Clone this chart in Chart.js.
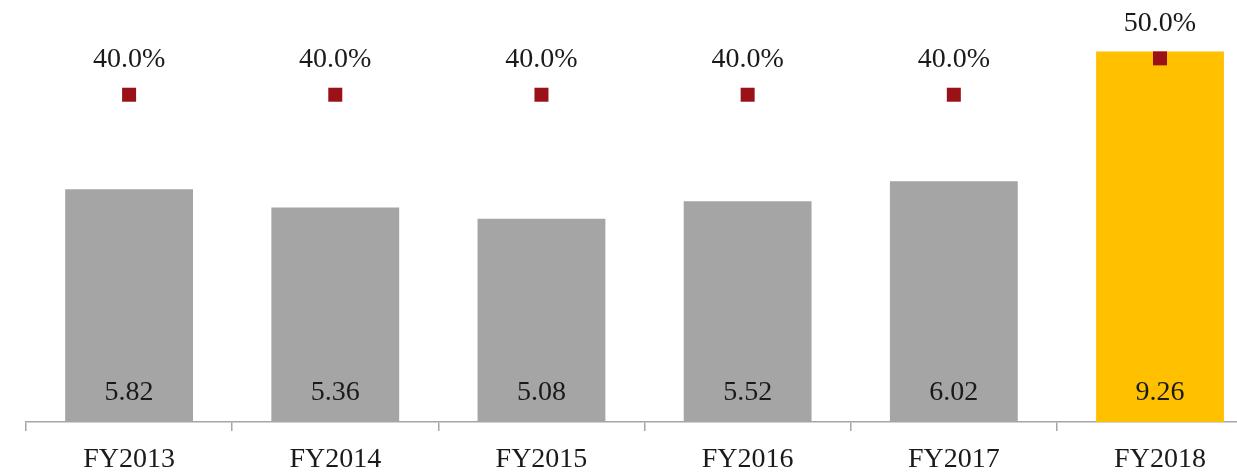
<!DOCTYPE html>
<html><head><meta charset="utf-8">
<script src="https://cdn.jsdelivr.net/npm/chart.js@4/dist/chart.umd.min.js"></script>
<style>
html,body{margin:0;padding:0;background:#fff;overflow:hidden;}
#wrap{width:1273px;height:474px;position:relative;}
</style></head>
<body><div id="wrap"><canvas id="c"></canvas></div>
<script>
const categories = ["FY2013","FY2014","FY2015","FY2016","FY2017","FY2018"];
const barValues = [5.82, 5.36, 5.08, 5.52, 6.02, 9.26];
const payoutRatio = [0.40, 0.40, 0.40, 0.40, 0.40, 0.50];
const barColors = ["#a5a5a5","#a5a5a5","#a5a5a5","#a5a5a5","#a5a5a5","#ffc000"];
const FONT = "'Liberation Serif', 'DejaVu Serif', serif";

const labelPlugin = {
  id: 'labels',
  afterDatasetsDraw(chart) {
    const ctx = chart.ctx;
    ctx.save();
    ctx.font = "28px " + FONT;
    ctx.fillStyle = "#1a1a1a";
    ctx.textAlign = "center";
    ctx.textBaseline = "middle";
    const barMeta = chart.getDatasetMeta(1);
    const base = chart.scales.y.getPixelForValue(0);
    barMeta.data.forEach((el, i) => {
      ctx.fillText(barValues[i].toFixed(2), el.x, base - 29);
    });
    const ptMeta = chart.getDatasetMeta(0);
    ptMeta.data.forEach((el, i) => {
      ctx.fillText((payoutRatio[i]*100).toFixed(1) + "%", el.x, el.y - 35);
    });
    ctx.restore();
  }
};

new Chart(document.getElementById('c'), {
  data: {
    labels: categories,
    datasets: [
      {
        type: 'line', data: payoutRatio, yAxisID: 'y2', order: 0,
        showLine: false, pointStyle: 'rect', pointRadius: 9.9, pointHoverRadius: 9.9,
        backgroundColor: '#9b1118', borderColor: '#9b1118', borderWidth: 0
      },
      {
        type: 'bar', data: barValues, yAxisID: 'y', order: 1,
        backgroundColor: barColors, barPercentage: 0.62, categoryPercentage: 1.0
      }
    ]
  },
  options: {
    responsive: true, maintainAspectRatio: false, animation: false,
    layout: { padding: { left: 26, right: 2, top: 22, bottom: 0 } },
    plugins: { legend: { display: false }, tooltip: { enabled: false } },
    scales: {
      x: {
        offset: true,
        grid: { offset: true, drawOnChartArea: false, drawTicks: true, tickLength: 9, color: '#a6a6a6', lineWidth: 1.5 },
        border: { color: '#a6a6a6', width: 1.5 },
        ticks: { font: { family: FONT, size: 28 }, color: '#1a1a1a', padding: 12, maxRotation: 0 },
        afterFit(s) { s.height = 52; }
      },
      y: { display: false, min: 0, max: 10 },
      y2: { display: false, min: -0.5, max: 0.6 }
    }
  },
  plugins: [labelPlugin]
});
</script></body></html>
